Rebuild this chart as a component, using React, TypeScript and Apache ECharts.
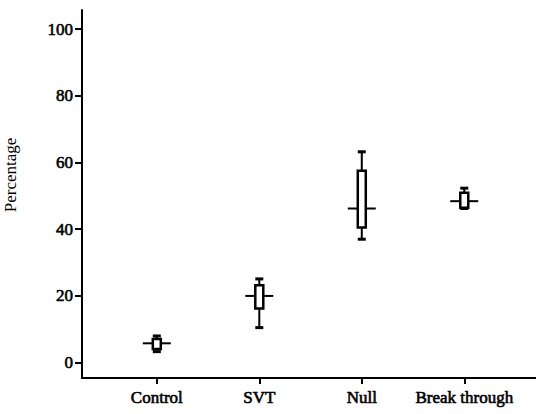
import React, { useEffect, useRef } from "react";
import * as echarts from "echarts";

const categories = ["Control", "SVT", "Null", "Break through"];
const lows = [3.3, 10.5, 37.0, 46.2];
const q1s = [4.1, 16.2, 40.5, 46.4];
const medians = [5.8, 20.0, 46.2, 48.4];
const q3s = [7.1, 23.2, 57.5, 50.9];
const highs = [8.0, 25.1, 63.2, 52.3];
const yTicks = [0, 20, 40, 60, 80, 100];
const xTicks = [1, 2, 3, 4];

const FONT = "Liberation Serif";

export default function App() {
  const ref = useRef<HTMLDivElement>(null);
  useEffect(() => {
    if (!ref.current) return;
    const chart = echarts.init(ref.current, null, { renderer: "svg" });
    const data = categories.map((_, i) => [i + 1, lows[i], q1s[i], medians[i], q3s[i], highs[i]]);
    chart.setOption({
      animation: false,
      backgroundColor: "#fff",
      grid: { left: 82, right: 0, top: 10, bottom: 36 },
      xAxis: {
        type: "value",
        min: 0.27,
        max: 4.7,
        splitLine: { show: false },
        axisLine: { show: true, onZero: false, lineStyle: { color: "#000", width: 2 } },
        axisTick: { show: true, length: 6, lineStyle: { color: "#000", width: 2 }, customValues: xTicks },
        axisLabel: { show: false },
      },
      yAxis: {
        type: "value",
        min: -4.6,
        max: 105.7,
        splitLine: { show: false },
        axisLine: { show: true, onZero: false, lineStyle: { color: "#000", width: 2 } },
        axisTick: { show: true, length: 7, lineStyle: { color: "#000", width: 2 }, customValues: yTicks },
        axisLabel: { show: false },
      },
      series: [
        {
          type: "custom",
          data,
          encode: { x: 0, y: [1, 2, 3, 4, 5] },
          renderItem: (params: any, api: any) => {
            const x = api.value(0);
            const pLow = api.coord([x, api.value(1)]);
            const pQ1 = api.coord([x, api.value(2)]);
            const pMed = api.coord([x, api.value(3)]);
            const pQ3 = api.coord([x, api.value(4)]);
            const pHigh = api.coord([x, api.value(5)]);
            const cx = pMed[0];
            const boxW = 8;
            const capW = 8;
            const medW = 28;
            const ls = { stroke: "#000", lineWidth: 2, fill: "none" };
            return {
              type: "group",
              children: [
                { type: "line", shape: { x1: cx, y1: pHigh[1], x2: cx, y2: pQ3[1] }, style: ls },
                { type: "line", shape: { x1: cx, y1: pLow[1], x2: cx, y2: pQ1[1] }, style: ls },
                { type: "line", shape: { x1: cx - capW / 2, y1: pHigh[1], x2: cx + capW / 2, y2: pHigh[1] }, style: { ...ls, lineWidth: 3 } },
                { type: "line", shape: { x1: cx - capW / 2, y1: pLow[1], x2: cx + capW / 2, y2: pLow[1] }, style: { ...ls, lineWidth: 3 } },
                { type: "line", shape: { x1: cx - medW / 2, y1: pMed[1], x2: cx + medW / 2, y2: pMed[1] }, style: ls },
                {
                  type: "rect",
                  shape: { x: cx - boxW / 2, y: pQ3[1], width: boxW, height: pQ1[1] - pQ3[1] },
                  style: { stroke: "#000", lineWidth: 2.5, fill: "#fff" },
                },
              ],
            };
          },
        },
      ],
    });

    const yAxisPx = chart.convertToPixel({ gridIndex: 0 }, [0.27, 0]) as number[];
    const xLabelTop = (chart.convertToPixel({ gridIndex: 0 }, [1, -4.6]) as number[])[1] + 11;
    const labels: any[] = [];
    yTicks.forEach((v) => {
      const p = chart.convertToPixel({ gridIndex: 0 }, [0.27, v]) as number[];
      labels.push({
        type: "text",
        x: yAxisPx[0] - 9,
        y: p[1],
        style: {
          text: String(v),
          fill: "#000",
          stroke: "#000",
          lineWidth: 0.6,
          fontFamily: FONT,
          fontSize: 17,
          align: "right",
          verticalAlign: "middle",
        },
      });
    });
    xTicks.forEach((v, i) => {
      const p = chart.convertToPixel({ gridIndex: 0 }, [v, 0]) as number[];
      labels.push({
        type: "text",
        x: p[0],
        y: xLabelTop,
        style: {
          text: categories[i],
          fill: "#000",
          stroke: "#000",
          lineWidth: 0.6,
          fontFamily: FONT,
          fontSize: 17,
          align: "center",
          verticalAlign: "top",
        },
      });
    });
    labels.push({
      type: "text",
      x: 10,
      y: 175,
      rotation: Math.PI / 2,
      style: {
        text: "Percentage",
        fill: "#000",
        fontFamily: FONT,
        fontSize: 17,
        align: "center",
        verticalAlign: "middle",
      },
    });
    chart.setOption({ graphic: labels });
    return () => chart.dispose();
  }, []);
  return (
    <div
      ref={ref}
      style={{ position: "fixed", left: 0, top: 0, width: 536, height: 414 }}
    />
  );
}
